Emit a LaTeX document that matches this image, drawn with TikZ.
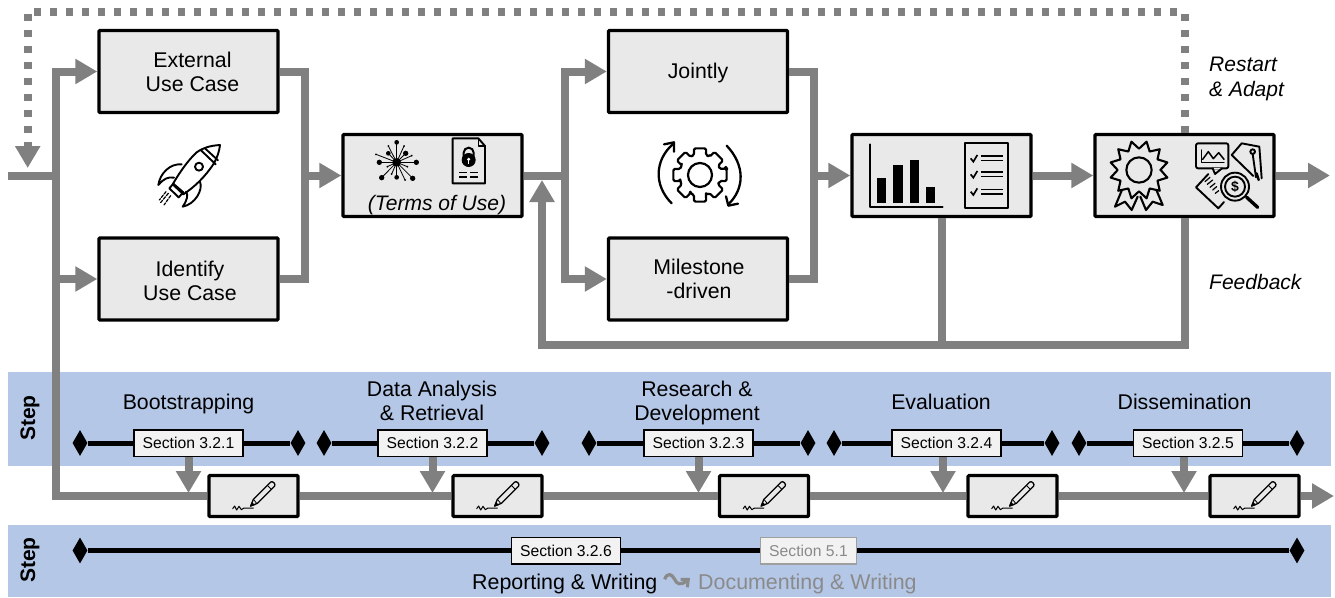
\documentclass[tikz,border=0pt]{standalone}
\usepackage{fontspec}
\setmainfont{Liberation Sans}
\usetikzlibrary{arrows.meta,shapes.geometric,calc}
\definecolor{bandblue}{HTML}{B4C7E7}
\definecolor{flowgray}{HTML}{808080}
\definecolor{boxfill}{HTML}{E9E9E9}
\definecolor{secfill}{HTML}{F2F2F2}
\definecolor{fadegray}{HTML}{8A8A8A}
\newcommand{\dropby}[1]{\rule{0pt}{\dimexpr16.8pt+2\dimexpr#1\relax\relax}}
\tikzset{
  maintext/.style={font=\fontsize{21.3}{24}\selectfont,align=center,inner sep=0pt,text=black},
  flowbox/.style={draw=black,line width=3.4pt,fill=boxfill,rounded corners=1pt,inner sep=0pt,minimum width=179pt,minimum height=82pt,maintext},
  penbox/.style={draw=black,line width=3.2pt,fill=boxfill,rounded corners=1pt,inner sep=0pt,minimum width=89pt,minimum height=41pt},
  secbox/.style={draw=black,line width=1.5pt,fill=secfill,inner sep=0pt,minimum width=109pt,minimum height=26.5pt,font=\fontsize{15.7}{18}\selectfont},
  fadebox/.style={secbox,draw=gray!75,text=fadegray,minimum width=96pt},
  endmark/.style={shape=diamond,fill=black,inner sep=0pt,minimum width=15pt,minimum height=26pt},
  timeline/.style={line width=5pt,black},
  flowline/.style={line width=8pt,flowgray},
  flowarrow/.style={flowline,-{Triangle[length=22pt,width=24pt]}},
  flowdots/.style={flowarrow,dash pattern=on 7pt off 9pt},
  stepname/.style={font=\fontsize{21}{24}\selectfont\bfseries,rotate=90,inner sep=0pt},
  noteitalic/.style={font=\fontsize{21}{25}\selectfont\itshape,align=left,anchor=west,inner sep=0pt},
  zoomed/.style 2 args={shift={(#1,#2)},x=0.33333pt,y=-0.33333pt},
  ink/.style={line width=1.9pt,black,line join=round,line cap=round},
  thinink/.style={line width=1.2pt,black,line join=round,line cap=round},
}
\newcommand{\penicon}[1]{%
  \begin{scope}[zoomed={#1}{470}]
    \draw[thinink,line width=1.3pt] (152,108) -- (160,88) -- (212,36) .. controls (218,32) and (228,42) .. (224,48) -- (172,100) -- cycle;
    \draw[thinink,line width=.8pt] (162,90) -- (170,100) (203,47) -- (214,58);
    \fill (150,110) -- (156,96) -- (165,105) -- cycle;
    \draw[thinink,line width=1pt] (98,116) -- (104,108) -- (110,120) -- (117,109) -- (124,119) -- (132,114) -- (160,114);
  \end{scope}}
\begin{document}
\begin{tikzpicture}[x=1pt,y=-1pt]
\useasboundingbox (0,0) rectangle (1335,597);
% bands
\fill[bandblue] (8,372) rectangle (1331,466);
\fill[bandblue] (8,525) rectangle (1331,597);
\node[stepname] (stepA) at (30,418) {Step};
\node[stepname] (stepB) at (30,560) {Step};
% boxes
\node[flowbox] (ext) at (188.5,71.5) {\hspace*{8pt}\begin{tabular}{@{}c@{}}\dropby{3pt}External\\Use Case\end{tabular}};
\node[flowbox] (ident) at (188.5,279) {\hspace*{3pt}\begin{tabular}{@{}c@{}}\dropby{5pt}Identify\\Use Case\end{tabular}};
\node[flowbox] (terms) at (432.5,175.5) {};
\node[maintext,font=\fontsize{21}{24}\selectfont\itshape] (termsT) at (437,205.5) {(Terms of Use)};
\node[flowbox] (joint) at (698,71.5) {\begin{tabular}{@{}c@{}}\dropby{2pt}Jointly\end{tabular}};
\node[flowbox] (mile) at (698,279) {\hspace*{2pt}\begin{tabular}{@{}c@{}}\dropby{2.5pt}Milestone\\-driven\end{tabular}};
\node[flowbox] (eval) at (941.5,175.5) {};
\node[flowbox] (dis) at (1184.5,175.5) {};
% named junctions
\coordinate (start) at (8,175.5);
\coordinate (branch) at (56,175.5);
\coordinate (mergeA) at (305,175.5);
\coordinate (splitB) at (565,175.5);
\coordinate (mergeC) at (814,175.5);
\coordinate (fbL) at (542,345);
\coordinate (fbT) at (542,180);
\coordinate (dotTR) at (1184.5,12);
\coordinate (dotTL) at (27.7,12);
\coordinate (dotEnd) at (27.7,168);
\coordinate (outA) at (1330,175.5);
\coordinate (outB) at (1334,496);
% flow connectors
\draw[flowline] (start) -- (branch);
\draw[flowarrow] (branch) |- (ext.west);
\draw[flowarrow] (branch) |- (ident.west);
\draw[flowline] (ext.east) -| (mergeA);
\draw[flowline] (ident.east) -| (mergeA);
\draw[flowarrow] ($(mergeA)+(-4,0)$) -- (terms.west);
\draw[flowline] (terms.east) -- ($(splitB)+(4,0)$);
\draw[flowarrow] (splitB) |- (joint.west);
\draw[flowarrow] (splitB) |- (mile.west);
\draw[flowline] (joint.east) -| (mergeC);
\draw[flowline] (mile.east) -| (mergeC);
\draw[flowarrow] ($(mergeC)+(-4,0)$) -- (eval.west);
\draw[flowarrow] (eval.east) -- (dis.west);
\draw[flowarrow] (dis.east) -- (outA);
\draw[flowline] (dis.south) |- (fbL);
\draw[flowline] (eval.south) -- (eval.south |- fbL);
\draw[flowarrow] ($(fbL)+(-4,0)$) -| (fbT);
\draw[flowdots] (dis.north) -- (dotTR) -- (dotTL) -- (dotEnd);
% notes
\node[noteitalic] (restart) at (1209,78.5) {Restart\\\& Adapt};
\node[noteitalic] (feedback) at (1209,282) {Feedback};
% step titles
\node[maintext] (t1) at (188.5,404) {Bootstrapping};
\node[maintext] (t2) at (432,401) {Data Analysis\\\& Retrieval};
\node[maintext] (t3) at (697,403) {Research \&\\Development};
\node[maintext] (t4) at (941,402) {Evaluation};
\node[maintext] (t5) at (1184.5,402) {Dissemination};
% timelines
\foreach \n/\l/\c/\r/\t in {1/80/188.5/298/3.2.1,2/324/432.5/542/3.2.2,3/589/698.5/808/3.2.3,4/834/946.5/1052/3.2.4,5/1079/1188/1297/3.2.5}{
  \node[endmark] (dl\n) at (\l,443) {};
  \node[endmark] (dr\n) at (\r,443) {};
  \node[secbox] (sec\n) at (\c,443) {Section \t};
  \draw[timeline] (dl\n) -- (sec\n);
  \draw[timeline] (sec\n) -- (dr\n);
}
\node[endmark] (dlB) at (80,550.5) {};
\node[endmark] (drB) at (1297,550.5) {};
\node[secbox] (secR) at (566,550.5) {Section 3.2.6};
\node[fadebox] (secD) at (808.5,550.5) {Section 5.1};
\draw[timeline] (dlB) -- (secR);
\draw[timeline] (secR) -- (secD);
\draw[timeline] (secD) -- (drB);
\node[maintext,anchor=west,font=\fontsize{21.4}{24}\selectfont] (rw) at (472,583.5) {Reporting \& Writing};
\node[maintext,anchor=west,text=fadegray,font=\fontsize{21.4}{24}\selectfont] (dw) at (698,583.5) {Documenting \& Writing};
\begin{scope}[zoomed={640}{560}]
  \draw[line width=3.2pt,fadegray] (74,58) .. controls (82,36) and (96,42) .. (104,58) .. controls (110,72) and (122,78) .. (140,62);
  \draw[line width=3pt,fadegray] (122,58) -- (145,58) -- (142,82);
\end{scope}
% pen boxes
\node[penbox] (pen1) at (253.5,496) {};
\node[penbox] (pen2) at (497.5,496) {};
\node[penbox] (pen3) at (764,496) {};
\node[penbox] (pen4) at (1012.5,496) {};
\node[penbox] (pen5) at (1254.5,496) {};
\draw[flowline] (branch) |- (pen1.west);
\draw[flowline] (pen1.east) -- (pen2.west);
\draw[flowline] (pen2.east) -- (pen3.west);
\draw[flowline] (pen3.east) -- (pen4.west);
\draw[flowline] (pen4.east) -- (pen5.west);
\draw[flowarrow] (pen5.east) -- (outB);
\foreach \n in {1,2,3}{
  \draw[flowarrow,shorten >=3pt] (sec\n.south) -- (sec\n.south |- pen\n.center);
}
\draw[flowarrow,shorten >=3pt] ($(sec4.south)+(-3.5,0)$) -- ($(sec4.south |- pen4.center)+(-3.5,0)$);
\draw[flowarrow,shorten >=3pt] ($(sec5.south)+(-4,0)$) -- ($(sec5.south |- pen5.center)+(-4,0)$);
\penicon{200}
\penicon{444}
\penicon{710.5}
\penicon{959}
\penicon{1201}
% rocket
\begin{scope}[zoomed={150}{135}]
  \draw[ink] (210,30) .. controls (180,32) and (160,38) .. (140,52) .. controls (115,75) and (90,110) .. (68,148) -- (100,178) .. controls (135,155) and (165,125) .. (190,88) .. controls (202,68) and (208,48) .. (210,30) -- cycle;
  \draw[ink] (152,45) -- (197,88) (165,40) -- (204,76);
  \draw[ink] (147,95) circle (12);
  \draw[ink] (95,88) .. controls (60,85) and (30,115) .. (25,150) .. controls (42,130) and (55,125) .. (72,128);
  \draw[ink] (150,140) .. controls (160,165) and (135,208) .. (98,215) .. controls (112,195) and (115,180) .. (108,170);
  \draw[ink] (58,160) -- (70,146) -- (100,172) -- (86,187) -- cycle;
  \draw[thinink,dash pattern=on 3pt off 1.5pt] (55,175) -- (30,205) (62,182) -- (42,210) (48,170) -- (28,195);
\end{scope}
% network and document
\begin{scope}[zoomed={330}{100}]
  \foreach \px/\py/\pr in {200/127/7,259/187/8,148/187/8,175/160/7,227/160/8,155/233/8,200/232/7,248/235/8,138/163/3,175/138/3,222/138/3,245/167/3,232/200/3,172/200/3,185/222/3,225/240/3}{
    \draw[line width=.8pt] (200,187) -- (\px,\py);
    \fill (\px,\py) circle (\pr);
  }
  \fill (200,187) circle (13);
  \draw[ink] (368,115) -- (445,115) -- (465,138) -- (465,250) -- (368,250) -- cycle;
  \draw[thinink] (445,115) -- (445,138) -- (465,138);
  \fill (416,180) circle (21);
  \draw[line width=2pt] (401,170) -- (401,158) arc[start angle=180,end angle=360,radius=15] -- (431,170);
  \fill[white] (416,178) circle (5);
  \fill[white] (414,178) rectangle (418,192);
  \draw[line width=1.4pt] (388,218) -- (412,218) (421,218) -- (445,218) (388,231) -- (412,231) (421,231) -- (445,231);
\end{scope}
% gear
\begin{scope}[zoomed={650}{135}]
  \draw[ink,line width=2.2pt,rounded corners=1.5pt] (150,120) ++(-14:80) \foreach \a in {0,45,...,315}{ -- ++(0,0) -- ($(150,120)+(\a-13:82)$) -- ($(150,120)+(\a+13:82)$) -- ($(150,120)+(\a+17:62)$) -- ($(150,120)+(\a+28:62)$)} -- cycle;
  \draw[ink,line width=2.2pt] (150,120) circle (36);
  \draw[ink,line width=2.3pt] (65,205) .. controls (10,150) and (15,75) .. (68,28);
  \draw[ink,line width=2.3pt] (42,28) -- (72,22) -- (72,50);
  \draw[ink,line width=2.3pt] (230,32) .. controls (285,90) and (285,160) .. (235,208);
  \draw[ink,line width=2.3pt] (228,184) -- (235,212) -- (264,206);
\end{scope}
% chart and checklist
\begin{scope}[zoomed={840}{100}]
  \draw[ink] (90,133) -- (90,320) -- (308,320);
  \fill (110,233) rectangle (138,308);
  \fill (160,195) rectangle (188,308);
  \fill (209,180) rectangle (237,308);
  \fill (258,262) rectangle (286,308);
  \draw[ink] (374,128) rectangle (505,323);
  \foreach \yy in {175,223,275}{
    \draw[line width=1.7pt] (392,\yy) -- (400,\yy+10) -- (412,\yy-10);
    \draw[line width=1.6pt] (423,\yy-7) -- (488,\yy-7) (423,\yy+7) -- (488,\yy+7);
  }
% badge
  \draw[ink,line width=2.1pt] (897,210) circle (38);
  \draw[ink,line width=2.1pt] ($(897,210)+(0:65)$) \foreach \a in {15,45,...,345}{ -- ($(897,210)+(\a:88)$) -- ($(897,210)+(\a+15:64)$)} -- cycle;
  \draw[ink,line width=2.1pt] (845,272) -- (825,320) -- (855,305) -- (875,330) -- (893,290);
  \draw[ink,line width=2.1pt] (950,272) -- (968,315) -- (938,305) -- (918,330) -- (901,290);
% dissemination icon
  \draw[ink,rounded corners=2pt] (1068,130) rectangle (1165,205);
  \fill[boxfill] (1118,203) rectangle (1146,208);
  \draw[ink] (1118,205) -- (1125,222) -- (1146,205);
  \draw[thinink] (1085,150) -- (1085,187) -- (1152,187);
  \draw[thinink,line width=1.5pt] (1088,178) -- (1105,155) -- (1120,176) -- (1136,158) -- (1152,178);
  \draw[ink] (1175,165) -- (1205,130) -- (1258,140) -- (1265,235);
  \draw[ink] (1175,165) -- (1240,228);
  \draw[ink] (1238,155) circle (7);
  \draw[ink] (1238,162) -- (1248,232);
  \draw[ink,line width=2.4pt] (1250,220) -- (1256,240);
  \draw[ink] (1105,222) -- (1068,262) -- (1135,325) -- (1152,306);
  \draw[thinink] (1095,245) -- (1110,232) (1102,253) -- (1118,240) (1110,262) -- (1125,250) (1118,270) -- (1130,260) (1126,280) -- (1136,272);
  \draw[ink,fill=boxfill] (1185,260) circle (42);
  \draw[ink] (1185,260) circle (30);
  \node[inner sep=0pt,font=\fontsize{14}{15}\selectfont\bfseries] (dollar) at (1185,260) {\$};
  \draw[line width=3.4pt,black,line cap=round] (1220,292) -- (1253,322);
\end{scope}
\end{tikzpicture}
\end{document}
